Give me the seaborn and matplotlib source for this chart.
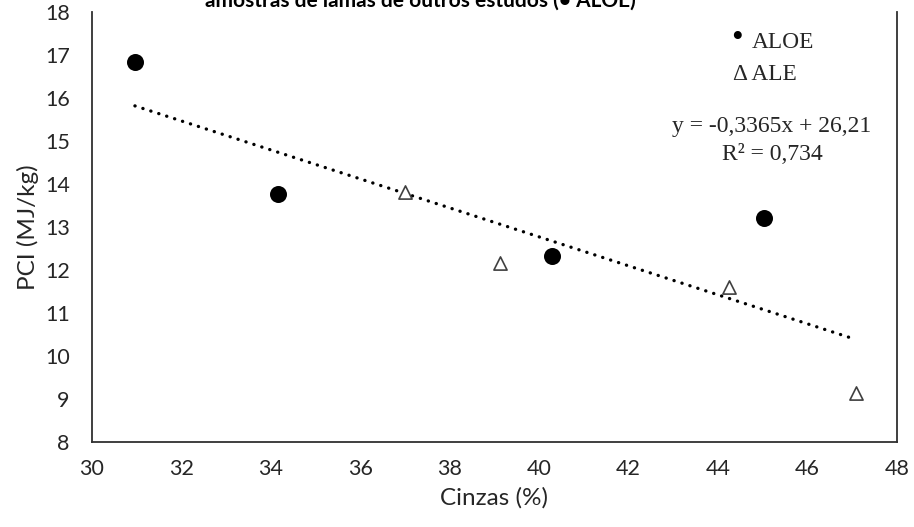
import matplotlib
matplotlib.use("Agg")
import matplotlib.pyplot as plt
import seaborn as sns
import pandas as pd
import numpy as np

# Data
aloe_x = [30.96, 34.17, 40.28, 45.03]
aloe_y = [16.84, 13.77, 12.33, 13.20]
ale_x = [37.00, 39.13, 44.24, 47.08]
ale_y = [13.82, 12.16, 11.60, 9.15]

x_ticks = [30, 32, 34, 36, 38, 40, 42, 44, 46, 48]
y_ticks = [8, 9, 10, 11, 12, 13, 14, 15, 16, 17, 18]

title_text = "amostras de lamas de outros estudos (• ALOE)"
eq_text = "y = -0,3365x + 26,21"
r2_text = "R² = 0,734"

sns.set_theme(style="white")
plt.rcParams['font.family'] = ['Lato', 'DejaVu Sans']

W, H = 914, 527
fig = plt.figure(figsize=(W / 100, H / 100), dpi=100)
ax = fig.add_axes([92 / W, 1 - 442 / H, (897 - 92) / W, (442 - 12) / H])

df_aloe = pd.DataFrame({"x": aloe_x, "y": aloe_y})
df_ale = pd.DataFrame({"x": ale_x, "y": ale_y})
df_all = pd.concat([df_aloe, df_ale], ignore_index=True)

sns.regplot(data=df_all, x="x", y="y", ax=ax, scatter=False, ci=None, truncate=True,
            line_kws=dict(color="black", linewidth=2.4, linestyle=(0, (0.05, 2.45)),
                          dash_capstyle="round"))

sns.scatterplot(data=df_aloe, x="x", y="y", ax=ax, marker="o", s=150,
                color="black", edgecolor="black", linewidth=0, zorder=3)
sns.scatterplot(data=df_ale, x="x", y="y", ax=ax, marker="^", s=90,
                facecolor="white", edgecolor="#404040", linewidth=1.2, zorder=3)

ax.set_xlim(30, 48)
ax.set_ylim(8, 18)
ax.set_xticks(x_ticks)
ax.set_yticks(y_ticks)
ax.tick_params(axis="both", direction="in", length=5, width=1, colors="#404040",
               labelcolor="#262626", labelsize=15.5)
ax.tick_params(axis="x", pad=12)
ax.tick_params(axis="y", pad=16)
for s in ["left", "bottom", "right"]:
    ax.spines[s].set_visible(True)
    ax.spines[s].set_color("#303030")
    ax.spines[s].set_linewidth(1.3)
ax.spines["top"].set_visible(False)

ax.set_xlabel("Cinzas (%)", fontsize=17.5, color="#262626", labelpad=6)
ax.set_ylabel("PCI (MJ/kg)", fontsize=17.5, color="#262626", labelpad=4)

serif = ['Liberation Serif', 'DejaVu Serif']
fig.text(737 / W, 1 - 47 / H, "•", family=serif, fontsize=24, ha="center", va="baseline", color="black")
fig.text(751.7 / W, 1 - 48 / H, "ALOE", family=serif, fontsize=16.8, ha="left", va="baseline", color="#262626")
fig.text(732.7 / W, 1 - 80 / H, "Δ ALE", family=serif, fontsize=16.8, ha="left", va="baseline", color="#262626")
fig.text(772 / W, 1 - 131.7 / H, eq_text, family=serif, fontsize=17, ha="center", va="baseline", color="#262626")
fig.text(772 / W, 1 - 160 / H, r2_text, family=serif, fontsize=17, ha="center", va="baseline", color="#262626")

fig.text(205 / W, 1 - 7 / H, title_text, fontsize=15, fontweight="bold", ha="left", va="baseline", color="black")

fig.savefig("out.png", dpi=100)
